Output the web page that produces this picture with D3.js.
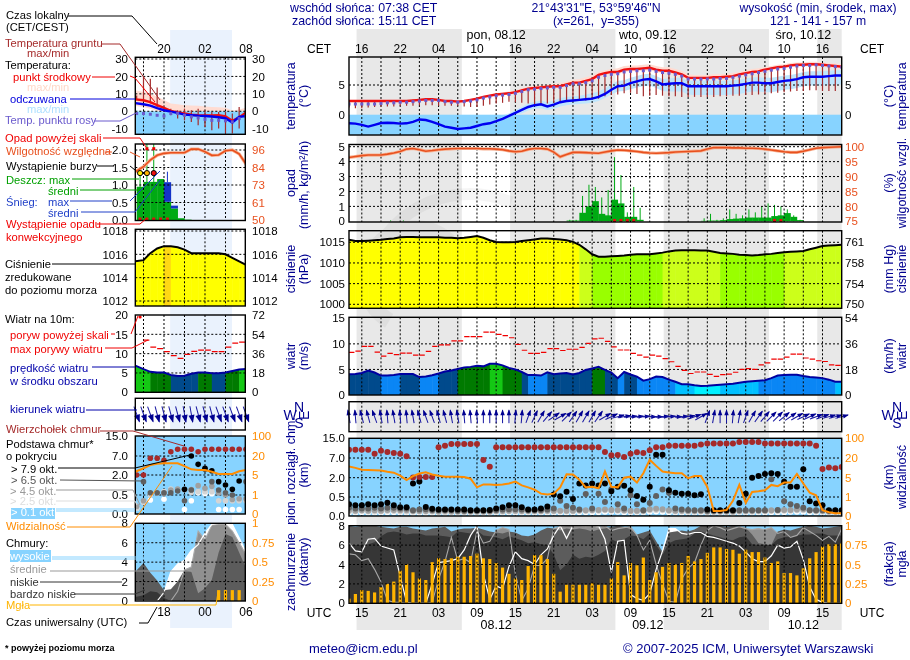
<!DOCTYPE html>
<html>
<head>
<meta charset="utf-8">
<title>Meteogram</title>
<script src="https://cdn.jsdelivr.net/npm/d3@7"></script>
<style>
  html, body { margin: 0; padding: 0; background: #fff; }
  svg { display: block; font-family: "Liberation Sans", Arial, sans-serif; }
  text { font-size: 12.5px; }
  .axis text { font-size: 11.5px; fill: #000; }
  .legend { font-size: 11.2px; }
</style>
</head>
<body>
<div id="chart"></div>
<script>
// ---- main column, one value per UTC hour, 13 (07.12) to 90 (10.12 18h) ----
const hours = d3.range(13, 91);
const tempMid = [2.3,2.3,2.3,2.3,2.3,2.3,2.3,2.3,2.3,2.3,2.4,2.5,2.6,2.6,2.5,2.3,2.3,2.2,2.3,2.5,2.7,3.0,3.2,3.4,3.5,3.6,3.8,4.1,4.4,4.5,4.6,4.7,4.8,4.8,5.1,5.4,5.4,5.7,6.0,6.7,7.0,7.2,7.2,7.6,7.7,7.7,7.8,7.9,7.6,7.4,7.4,7.1,6.8,6.2,6.2,6.2,6.2,6.3,6.3,6.4,6.5,6.8,7.0,7.2,7.3,7.6,7.8,8.0,8.1,8.3,8.4,8.4,8.5,8.5,8.4,8.3,8.2,8.1];
const tempMax = [2.4,2.4,2.4,2.4,2.4,2.4,2.4,2.4,2.4,2.4,2.5,2.6,2.7,2.7,2.6,2.4,2.4,2.3,2.4,2.6,2.9,3.2,3.4,3.6,3.8,3.9,4.1,4.4,4.7,4.9,5.0,5.1,5.2,5.3,5.6,5.9,6.0,6.3,6.6,7.2,7.5,7.7,7.8,8.2,8.3,8.3,8.4,8.5,8.2,8.0,8.0,7.7,7.4,6.8,6.7,6.7,6.7,6.8,6.8,6.9,7.0,7.2,7.5,7.7,7.8,8.0,8.2,8.4,8.5,8.7,8.8,8.8,8.9,8.9,8.8,8.7,8.6,8.5];
const tempMin = [2.2,2.2,2.2,2.2,2.2,2.2,2.2,2.2,2.2,2.2,2.3,2.4,2.5,2.5,2.4,2.2,2.2,2.1,2.2,2.4,2.6,2.8,3.0,3.2,3.3,3.4,3.6,3.8,4.1,4.2,4.3,4.4,4.5,4.5,4.8,5.0,5.0,5.3,5.6,6.3,6.6,6.8,6.8,7.2,7.3,7.3,7.4,7.5,7.2,7.0,7.0,6.7,6.4,5.9,5.9,5.9,5.9,6.0,6.0,6.1,6.2,6.5,6.7,6.9,7.0,7.3,7.5,7.7,7.8,8.0,8.1,8.1,8.2,8.2,8.1,8.0,7.9,7.8];
const feelMid = [-1.45,-1.5,-1.7,-2.0,-1.7,-1.4,-1.35,-1.4,-1.5,-1.45,-1.2,-0.8,-0.9,-1.2,-1.6,-2.0,-2.2,-2.4,-2.3,-2.2,-1.9,-1.6,-1.45,-1.1,-0.7,-0.2,0.3,0.8,1.3,1.6,1.75,1.4,1.7,2.1,2.3,2.4,2.5,2.6,2.7,3.0,3.5,4.2,4.8,4.9,5.3,5.6,5.9,6.0,5.6,5.1,5.2,5.3,5.3,4.8,4.8,4.8,4.8,4.8,4.8,4.8,4.9,5.0,5.2,5.4,5.4,5.3,5.3,5.5,5.7,5.8,6.0,6.3,6.4,6.4,6.4,6.5,6.6,6.6];
const feelMax = [-1.3,-1.35,-1.55,-1.85,-1.55,-1.2,-1.15,-1.2,-1.3,-1.25,-1.0,-0.6,-0.7,-1.0,-1.4,-1.8,-2.0,-2.2,-2.1,-2.0,-1.7,-1.4,-1.2,-0.8,-0.3,0.2,0.8,1.3,1.9,2.2,2.4,2.1,2.4,2.8,3.0,3.1,3.2,3.4,3.6,3.9,4.4,5.1,5.7,5.8,6.2,6.5,6.8,6.9,6.5,6.0,6.1,6.2,6.2,5.7,5.7,5.7,5.7,5.7,5.7,5.7,5.8,5.9,6.1,6.3,6.3,6.2,6.2,6.4,6.6,6.7,6.9,7.2,7.3,7.3,7.3,7.4,7.5,7.5];
const feelMin = [-1.6,-1.65,-1.85,-2.15,-1.85,-1.6,-1.55,-1.6,-1.7,-1.65,-1.4,-1.0,-1.1,-1.4,-1.8,-2.2,-2.4,-2.6,-2.5,-2.4,-2.1,-1.8,-1.7,-1.5,-1.2,-0.8,-0.3,0.2,0.7,1.0,1.1,0.8,1.0,1.4,1.6,1.7,1.8,1.9,2.0,2.3,2.8,3.4,3.9,4.0,4.3,4.6,4.8,4.9,4.5,4.0,3.9,3.9,3.9,3.4,3.3,3.3,3.3,3.3,3.3,3.3,3.4,3.5,3.7,3.9,3.9,3.8,3.8,4.0,4.2,4.3,4.5,4.8,4.9,4.9,4.9,5.0,5.1,5.1];
const dewPoint = [1.8,1.8,1.8,1.8,1.8,1.9,2.0,2.0,2.1,2.1,2.2,2.3,2.4,2.4,2.4,2.2,2.1,2.1,2.2,2.3,2.5,2.8,3.0,3.2,3.3,3.4,3.6,3.9,4.2,4.3,4.4,4.5,4.6,4.6,4.9,5.2,5.2,5.4,5.7,6.3,6.6,6.8,6.9,7.2,7.3,7.4,7.4,7.5,7.3,7.1,7.0,6.8,6.5,6.0,6.0,6.0,6.0,6.0,6.1,6.1,6.3,6.5,6.7,6.9,7.1,7.3,7.5,7.7,7.8,8.0,8.2,8.3,8.3,8.4,8.3,8.2,8.1,8.0];
const soilMin = [1.2,1.1,1.1,1.2,1.3,1.4,1.4,1.4,1.5,1.5,1.5,1.6,1.6,1.6,1.5,1.5,1.5,1.5,1.4,1.3,1.3,1.5,1.7,1.9,2.0,2.2,2.1,2.0,1.9,1.8,1.8,1.9,2.0,2.1,2.2,2.3,2.4,2.4,2.5,2.7,3.1,3.3,3.4,3.6,3.7,3.5,3.1,3.2,3.3,3.2,3.1,3.1,3.0,3.0,3.0,3.0,3.0,3.0,3.1,3.1,3.2,3.2,3.3,3.3,3.4,3.5,3.6,3.7,3.8,3.9,4.0,4.0,4.1,4.1,4.0,4.0,4.0,4.0];
const soilMax = [2.3,2.3,2.4,2.4,2.3,2.4,2.4,2.4,2.4,2.4,2.5,2.6,2.7,2.7,2.6,2.4,2.4,2.3,2.4,2.6,2.8,3.1,3.3,3.5,3.6,3.7,3.9,4.2,4.5,4.6,4.7,4.8,4.9,4.9,5.2,5.5,5.5,5.8,6.1,6.8,7.1,7.3,7.3,7.7,7.8,7.8,7.9,8.0,7.7,7.5,7.5,7.2,6.9,6.3,6.3,6.3,6.3,6.4,6.4,6.5,6.6,6.9,7.1,7.3,7.4,7.7,7.9,8.1,8.2,8.4,8.5,8.5,8.6,8.6,8.5,8.4,8.3,8.2];
const humidity = [96.4,96.7,97.0,97.2,97.2,97.2,97.5,97.9,98.4,99.2,99.4,99.0,98.5,98.7,99.0,99.2,99.3,99.4,99.4,99.4,99.4,99.3,99.3,99.2,99.0,98.6,98.3,98.5,99.1,99.4,99.4,99.2,98.2,96.6,97.4,98.1,98.1,98.0,97.9,97.8,98.2,98.6,98.9,98.8,98.6,98.4,98.1,97.9,97.8,97.9,98.0,98.2,98.3,98.4,98.5,98.6,99.2,99.7,99.7,99.7,99.6,99.6,99.5,99.5,99.4,99.2,98.9,98.6,98.3,98.1,98.1,98.5,99.0,99.5,99.7,99.8,99.9,100];
const rainMean = [0,0,0,0,0,0,0,0,0,0,0,0,0,0,0,0,0,0,0,0,0,0,0,0,0,0,0,0,0,0,0,0,0,0,0.05,0.05,0.57,1.0,1.35,0.5,0.4,1.45,1.2,0.3,0.3,0.1,0,0,0,0,0,0,0,0,0,0.03,0.05,0.05,0.08,0.15,0.18,0.2,0.25,0.25,0.25,0.25,0.35,0.4,0.55,0.3,0.08,0,0,0,0,0,0,0];
const rainMax = [0,0,0,0,0,0,0.06,0,0.06,0,0,0,0,0,0,0,0,0,0,0,0,0,0,0,0,0,0,0,0,0,0,0,0,0,0.1,0.1,1.7,2.45,2.3,1.6,2.1,4.3,3.1,0.6,2.3,0.9,0,0,0,0,0,0,0,0,0,0.2,0.5,0.1,0.2,0.8,0.5,0.4,0.8,0.6,1.0,1.2,1.1,1.0,0.8,0.4,0.1,0,0,0,0,0,0,0];
const convective = [54,55,56,57,79,80];
const pressure = [1015.6,1015.3,1015.3,1015.4,1015.5,1015.6,1015.8,1015.9,1016.2,1016.3,1016.3,1016.2,1016.2,1016.2,1016.2,1016.1,1016.1,1016.0,1016.1,1016.3,1016.5,1016.1,1015.5,1015.1,1015.0,1015.0,1015.1,1015.3,1015.5,1015.7,1015.9,1015.9,1015.8,1015.7,1015.5,1015.1,1014.4,1013.3,1012.1,1011.5,1011.5,1011.6,1011.7,1011.8,1012.0,1012.1,1012.1,1012.1,1012.3,1012.5,1012.8,1013.0,1013.1,1013.1,1013.1,1013.0,1013.0,1012.7,1012.4,1012.3,1012.2,1012.0,1011.9,1011.8,1011.9,1012.1,1012.2,1012.4,1012.6,1012.7,1012.8,1012.9,1013.3,1013.7,1014.1,1014.2,1014.3,1014.4];
const wind = [4.05,4.1,4.3,4.8,4.4,3.8,3.8,3.9,4.1,4.1,4.1,3.5,3.6,3.85,4.2,4.6,4.8,5.1,5.4,5.5,5.7,5.6,6.1,6.1,5.8,5.3,5.0,4.5,3.9,3.9,3.8,4.45,4.05,4.2,4.3,4.0,4.3,4.9,5.2,5.5,4.9,4.4,3.3,4.5,4.0,3.6,2.8,3.1,3.6,3.5,3.0,2.6,2.1,2.1,1.9,1.76,1.8,1.9,2.0,2.1,2.2,2.4,2.6,2.7,2.8,2.9,3.3,3.8,3.9,3.95,3.95,3.7,3.5,3.4,3.3,3.0,2.6,2.6];
const gust = [8.35,8.6,9.5,9.5,8.4,7.6,8.15,7.9,8.2,8.2,7.8,7.8,8.55,9.5,9.8,9.8,10.6,10.6,11.4,11.4,11.4,12.3,12.3,11.85,11.6,11.2,9.9,8.75,8.15,8.15,8.35,9.06,9.06,8.7,8.95,8.95,9.3,10.1,10.96,11.1,10.5,9.4,8.8,8.8,8.15,7.8,7.4,7.8,7.6,7.1,6.5,5.6,4.8,4.2,4.5,4.5,4.05,3.65,4.0,4.1,4.45,5.0,5.15,5.0,5.9,6.3,7.0,7.0,7.4,8.0,8.0,7.24,7.0,6.7,6.55,5.9,5.8,5.8];
const windFrom = [170,175,165,165,160,170,175,170,175,175,170,165,160,160,165,165,170,170,175,175,175,180,180,180,180,180,185,185,200,205,210,220,235,240,225,215,210,210,210,215,240,245,255,260,265,265,265,270,270,265,265,270,265,260,250,240,200,190,180,180,185,190,200,210,215,220,225,225,230,235,240,245,245,250,250,255,255,255];
const cloudTop = [10.3,10.3,10.3,10.3,8.7,9.9,9.4,9,8.7,7.7,2.05,2.2,2.2,2.2,11.4,12,12.7,12.7,12.7,12.7,12.7,6.5,4.8,11.4,11.4,11.4,11.4,11.4,11.4,11.4,11.4,11.4,11.4,11.4,11.4,11.4,11.4,11.4,11.4,11.4,9.4,8.1,8.2,7.4,8.7,9.3,9,10.1,11.4,11.4,12,12,12,12,12,12.5,12.9,12.9,12.9,12.9,12.9,13.5,13.5,13.5,13.5,12.9,12.9,12.9,12.9,12.9,12.9,12.9,12.9,12,4.2,4.6,4.4,4.7];
const base79 = [.31,.28,.28,.31,.28,.31,.35,.28,.23,.23,1.55,1.7,.24,.19,.17,.17,.17,.17,.17,.15,.15,.15,.16,.2,.23,.28,.28,.23,.17,.17,.2,.25,.7,.55,.9,.45,1.55,1.4,1.55,1.4,1.55,.95,1.3,1.37,1.03,.58,.43,1.3,8.3,8.3,1.03,.84,.76,.76,.63,.71,.17,.15,.15,.15,.15,.34,.76,2,2.43,2.95,3.1,2.95,1.68,1.3,1.3,4.15,.39,.33,.28,.15,.15,.15];
const base65 = [.22,.2,.2,.2,.22,.2,.22,.22,.2,.2,.15,.17,.18,.16,.15,.15,.15,.14,.14,.14,.14,.14,.14,.16,.17,.18,.18,.17,.15,.15,.16,.17,.2,.4,.26,.22,.17,.73,.2,.76,.37,1.1,.31,.2,.63,.31,.15,.34,.58,1.08,.84,.2,.17,.16,.15,.15,.14,.14,.14,.14,.14,.15,.15,.15,.15,.15,1.87,.16,.39,.31,.26,.22,.15,.15,.15,.14,.14,.14];
const base45 = [.15,.14,.15,.14,.15,.14,.16,.16,.15,.15,.13,.13,.13,.13,.12,.13,.12,.12,.12,.12,.12,.12,.12,.13,.13,.14,.14,.13,.13,.13,.13,.14,.14,.14,.14,.14,.15,.15,.16,.16,.17,.16,.16,.15,.14,.14,.14,.18,.19,.18,.15,.14,.14,.13,.13,.13,.12,.12,.12,.12,.12,.13,.13,.13,.14,.14,.15,.15,.16,.16,.17,.18,.15,.14,.13,.12,.12,.12];
const base25 = [.12,.12,.13,.12,.12,.12,.13,.13,.12,.12,.11,.11,.11,.11,.1,.1,.1,.1,.1,.1,.1,.1,.1,.11,.11,.12,.12,.11,.11,.11,.11,.12,.12,.12,.12,.12,.13,.13,.14,.14,.15,.14,.14,.13,.12,.12,.12,.15,.16,.15,.13,.12,.12,.11,.11,.11,.1,.1,.1,.1,.1,.11,.11,.11,.12,.12,.13,.13,.14,.14,.15,.15,.13,.12,.11,.1,.1,.1];
const base01 = [.09,.09,.1,.09,.09,.09,.1,.1,.09,.09,.08,.08,.08,.08,.08,.08,.08,.08,.08,.08,.08,.08,.08,.09,.09,.09,.09,.09,.09,.09,.09,.09,.09,.09,.09,.09,.1,.1,.1,.1,.11,.11,.11,.1,.1,.1,.1,.11,.12,.11,.1,.1,.09,.09,.09,.09,.08,.08,.08,.08,.08,.09,.09,.09,.09,.09,.1,.1,.1,.11,.11,.11,.1,.09,.09,.08,.08,.08];
const visibility = [13.5,12.5,11,10.9,10.7,10.4,9.5,8.8,6.6,4.5,6.2,8.2,9.1,7.5,6.5,5.8,5.8,5.8,5.6,4.8,3.0,3.6,3.6,3.5,3.6,3.8,4.2,3.4,3.0,2.5,1.7,1.5,1.7,3.0,7.6,7.4,4.6,3.0,3.1,2.8,9.7,3.1,3.0,5,5.8,4,8.4,18.7,14,9.7,9,8.4,8.4,4.9,6.3,6.3,3.1,.26,.26,.31,.8,3.5,.69,2.05,2.2,2.4,3.5,3.25,4.0,4.0,7.8,3.8,1.9,1.35,.3,.2,.14,.14];
const coverHigh = [6.2,5.4,5.3,6.6,6.7,5.9,5.7,5.5,2.8,0.1,0,0,0,2,4.2,4.3,4.4,4.6,5.5,7,8,3,.4,1.8,1.5,3.8,5.3,4.6,4.4,4.0,5,5.6,7,8,6.7,8,8,8,8,8,6.6,3.2,6.4,6.5,.9,.5,.3,1,3.5,5.4,7.7,7.7,7.2,7.1,7.3,7.3,6.9,6.8,6.6,6.4,6.2,5.9,5.3,4.6,4.3,4.3,4.9,6,5.7,5.8,6.4,4.5,1.7,.4,.1,0,0,0];
const coverMid = [5.1,5.0,4.4,4.6,3.5,2.2,.3,.1,.1,0,0,0,0,.1,2.5,4.3,6.8,4.4,4.6,4.2,7.5,6.2,6.4,7.5,7.8,7.6,3,.3,1.5,3.9,3.9,4.6,7.7,7.9,8,8,8,7.9,8,7.8,8,7.5,7.7,7.8,7.9,7,5.5,6.5,4,2,.2,.1,2.5,3.6,4.2,6,7.5,8,7.8,7.5,7.7,7.9,7.7,7.6,7.7,7.6,7.8,7.2,7.4,6.8,7,7.8,7.4,7,6.5,6.9,6.3,7.7];
const coverLow = [8,7.9,8,8,8,7.9,7.8,7.7,7.9,7.9,7.7,7.6,7.5,7.7,7.8,7.9,7.4,7.6,7.7,7.7,7.8,7.6,7.4,7.3,7.2,7.4,7.3,7,6.9,7.1,7.5,7.8,7.7,7.5,7.7,7.6,7.7,7.6,7.4,7.6,7.7,7.9,8,7.9,7.6,7.1,7.3,7.5,6.4,5.3,7.3,7.4,7.5,7.4,7.6,8,8,8,8,7.9,8,7.9,7.8,7.1,6.2,6.1,6,7.4,7.6,7.5,7.7,7.9,8,7.9,7.7,7.8,7.9,8];
const coverVeryLow = [6,6,6,6.1,6.3,6.9,7.3,7.4,7.3,7.1,7.2,7.2,7,7,7,6.9,6.8,7.4,7.3,7.2,7.5,7,6.9,6.8,6.6,6.9,6.7,6.5,6.2,6.3,6.1,6,5,3.4,4,5,4.6,4.8,4.7,5,5.4,6.6,6.3,6.6,7,6.9,6.6,7.2,6,5,6.2,6.5,6.6,6.7,7.2,7.4,7.2,7,6.8,6.6,6.5,6.8,6.9,6.1,6,6,6,6.6,6.8,6.9,7,7.1,7.1,7.2,7.2,7,7,7];
const fog = [.06,.12,.17,.16,.14,.21,.25,.28,.42,.5,.4,.32,.3,.53,.58,.57,.58,.6,.6,.61,.64,.58,.57,.52,.46,.38,.32,.3,.48,.62,.62,.57,.38,.15,.24,.24,.24,.24,.26,.24,.24,.32,.53,.36,.52,.49,.59,.3,.4,.47,.52,.5,.52,.61,.54,.57,.65,.72,.72,.7,.69,.64,.69,.66,.66,.59,.52,.54,.39,.39,.36,.45,.58,.66,.73,.76,.76,.77];
const nightBands = [[14.18, 30.63], [38.18, 54.63], [62.18, 78.63], [86.18, 90]];

// ---- left column, first hours of the forecast, UTC hour 14 to 30 ----
const leftHours = d3.range(14, 31);
const leftTempMid = [6.8,6.3,5.2,3.5,2,0.2,-.7,-1.3,-2,-2.3,-2.4,-2.4,-2.3,-3.0,-5.5,-3.5,-.7];
const leftTempMax = [12,11,10,8.5,6.5,4.5,4,3.5,3.3,3.1,2.8,2.5,2.3,2,.5,1,2];
const leftTempMin = [3,2.5,1.5,-.5,-1,-3,-4,-5,-5.5,-6,-6.5,-7,-7,-8,-9,-8,-6];
const leftFeelMid = [4.7,4,3.2,1.8,.6,-.2,-.9,-1.9,-2.2,-2.5,-2.7,-3,-3.4,-4,-6.4,-3.2,-2.7];
const leftFeelMax = [0.5,0.3,0,-.3,-.8,-1.2,-1.6,-2,-2.4,-2.8,-3,-3.3,-3.6,-4.2,-6,-4,-3];
const leftFeelMin = [-11,-11,-11,-11,-11,-11.5,-12,-12,-12,-12,-12,-12.5,-12.5,-13,-14,-13,-12];
const leftDew = [-1.3,-1.3,-1.7,-2.3,-2.7,-1.3,-1.3,-2.3,-3.2,-3.8,-4.6,-5.2,-5.2,-5.5,-6.1,-4.2,-2.5];
const leftSoilMax = [9,20,18.7,13.6,1.5,1.5,.6,1.5,.6,1.5,.6,-.4,-.4,-.4,-1.3,2.5,0];
const leftSoilMin = [6.5,6.3,4.4,2.5,-.4,-2.3,-4.2,-5.2,-6.1,-8,-9,-10.9,-9.9,-12.8,-12.8,-9.9,-6];
const leftHumidity = [81.7,85,89.4,92.5,93.8,94.2,94.2,94.2,96.6,96.6,94.9,92.5,92.7,95.5,96,93.4,86.8];
const leftRainMean = [.95,1.09,1.09,1.17,.52,.33,.05,.01,0,0,0,0,0,0,0,0,0];
const leftRainMax = [1.3,2.3,2.3,0,0,0,0,0,0,0,0,0,0,0,0,0,0];
const leftSnowMean = [0,0,0,0,.56,.08,0,0,0,0,0,0,0,0,0,0,0];
const leftSnowMax = [0,0,0,0,1.38,0,0,0,0,0,0,0,0,0,0,0,0];
const leftStorm = ['#ffee00', '#ffb400', '#ee1111'];
const leftConvective = [14,15,16,17,18];
const leftPressure = [1015.4,1015.5,1016.1,1016.5,1016.7,1016.69,1016.6,1016.4,1016.1,1016.1,1016.1,1016.1,1016.1,1016,1015.7,1015.4,1015.1];
const leftWind = [6.9,6.0,5.3,5.1,5.1,4.5,4.2,4.3,4.8,5.1,5.1,4.9,4.9,5.1,5.5,5.9,6];
const leftGust = [21,13.5,11.7,11.3,10.5,9.5,8.8,9.8,10.6,10.9,10.9,10.5,10.5,11.7,12.7,13,13];
const leftWindFrom = [340,340,340,345,345,345,345,350,350,345,345,345,340,340,340,340,340];
const leftCloudTop = [2,2,6.4,6.4,5.9,8.7,9.7,9.7,9.7,8.7,9.7,9.7,9.7,9.7,9.7,9.7,9.7];
const leftBase79 = [null,null,null,null,null,null,null,.93,7,4.8,3.75,3.1,1.5,1.25,.93,1.55,null];
const leftBase65 = [null,1.5,.67,.67,.67,.67,.8,.35,.88,null,3.5,1.5,.88,.67,.5,null,1.5];
const leftBase45 = [.2,.35,null,null,.62,.88,.95,.9,.9,1.2,1,1.15,.65,.5,.38,.4,.4];
const leftBase25 = [.15,.3,.5,.65,.75,.95,.9,null,.7,.75,.75,.75,.35,.35,.35,.35,.35];
const leftBase01 = [.15,.33,.37,null,.39,null,null,.12,.35,.67,.62,.6,.12,.12,.12,.12,null];
const leftVisibility = [7.6,10.3,12.9,13.8,14.2,14.2,14.2,12,9.5,9,8.9,7.6,5.8,5.8,5.8,8,8.9];
const leftCoverHigh = [0,0,0,0,.9,3,3.8,4.2,5.2,5.8,7,7.9,8,8,7.9,6.5,5];
const leftCoverMid = [0,0,0,0,0,0,1,3.2,3.5,7.2,6.3,7.8,7.9,7.9,7.2,6,4.8];
const leftCoverLow = [3,3.9,2.9,2.1,1.1,1.2,2,3.2,3,.8,1.3,2.2,5,6.9,6.6,5,3.4];
const leftCoverVeryLow = [.4,.6,1,.9,.3,0,0,0,0,0,0,0,0,0,0,0,0];
const leftFog = [0,0,0,0,0,0,0,0,0,0,0,0,.14,.14,.14,.14,0];
const leftDayBand = [18.9, 27.95];

// ---- texts ----
const localLabels = ['16','22','04','10','16','22','04','10','16','22','04','10','16'];
const utcLabels = ['15','21','03','09','15','21','03','09','15','21','03','09','15'];
const dayTitles = ['pon, 08.12', 'wto, 09.12', 'śro, 10.12'];
const dayDates = ['08.12', '09.12', '10.12'];
const dayCentres = [36, 59.7, 84];
const leftLocalLabels = ['20', '02', '08'];
const leftUtcLabels = ['18', '00', '06'];

const width = 910;
const height = 660;
const navy = '#000090';
const orange = '#ff8c00';
const rhColor = '#e8501e';
const sky = '#87d3ff';
const brown = '#a52a2a';

const svg = d3.select('#chart').append('svg').attr('width', width).attr('height', height);

const label = (x, y, text, fill = '#000', anchor = 'start', size = null) => {
  const t = svg.append('text')
    .attr('x', x).attr('y', y)
    .attr('fill', fill)
    .attr('text-anchor', anchor)
    .text(text);
  if (size) t.style('font-size', `${size}px`);
  return t;
};

const vertical = (x, y, text, fill = navy) => svg.append('text')
  .attr('transform', `translate(${x},${y}) rotate(-90)`)
  .attr('text-anchor', 'middle')
  .attr('fill', fill)
  .text(text);

const pressureColor = (v) => {
  if (v >= 1016.7) return '#ffd814';
  if (v >= 1014.5) return '#ffff00';
  if (v >= 1012.5) return '#ccff1a';
  return '#99ff00';
};

const windColor = (v) => {
  if (v >= 5.9) return '#14c814';
  if (v >= 5) return '#007a00';
  if (v >= 4) return '#004a8c';
  if (v >= 2.8) return '#0a86f5';
  if (v >= 2) return '#00c0ff';
  return '#00f0ff';
};

const drawColumn = (c) => {
  const { x, hours: hh, id, d, p, y } = c;
  const xAt = (h) => (h === hh[0] ? x.range()[0] : x(h));
  const x0 = x.range()[0];
  const x1 = x.range()[1];
  const w = x1 - x0;
  const frames = [];

  const panel = (name, yr) => {
    svg.append('defs').append('clipPath').attr('id', `${id}-${name}`)
      .append('rect')
      .attr('x', x0).attr('y', yr[0])
      .attr('width', w).attr('height', yr[1] - yr[0]);
    frames.push(yr);
    return svg.append('g').attr('clip-path', `url(#${id}-${name})`);
  };

  const grid = (g, yr, scale, ticks) => {
    g.selectAll('.vgrid').data(c.gridHours).join('line')
      .attr('x1', (h) => x(h)).attr('x2', (h) => x(h))
      .attr('y1', yr[0]).attr('y2', yr[1])
      .attr('stroke', '#000').attr('stroke-dasharray', '2,2');
    if (!scale) return;
    g.selectAll('.hgrid').data(ticks).join('line')
      .attr('x1', x0).attr('x2', x1)
      .attr('y1', (v) => scale(v)).attr('y2', (v) => scale(v))
      .attr('stroke', '#000').attr('stroke-dasharray', '2,2');
  };

  const skyFill = (g, yr) => g.append('rect')
    .attr('x', x0).attr('y', yr[0])
    .attr('width', w).attr('height', yr[1] - yr[0])
    .attr('fill', sky)
    .style('mix-blend-mode', 'multiply');

  const areaPath = (g, values, scale, fill) => g.append('path')
    .attr('d', d3.area().x((e, i) => xAt(hh[i])).y0(scale.range()[0]).y1((v) => scale(v))(values))
    .attr('fill', fill);

  // max/min bands only show above zero, below it the panel stays plain blue
  const bandArea = (g, lo, hi, scale, fill) => g.append('path')
    .attr('d', d3.area().x((e, i) => xAt(hh[i]))
      .y0((e, i) => scale(Math.max(lo[i], 0)))
      .y1((e, i) => scale(Math.max(hi[i], 0)))(hi))
    .attr('fill', fill);

  const linePath = (g, values, scale, stroke, sw) => g.append('path')
    .attr('d', d3.line().x((e, i) => xAt(hh[i])).y((v) => scale(v))(values))
    .attr('fill', 'none')
    .attr('stroke', stroke)
    .attr('stroke-width', sw);

  const axes = (scale, leftTicks, rightScale, rightTicks, leftFmt, rightFmt, rightColor = '#000') => {
    svg.append('g').attr('class', 'axis')
      .attr('transform', `translate(${c.axisLeft},0)`)
      .call(d3.axisLeft(scale).tickValues(leftTicks).tickSize(0).tickPadding(3).tickFormat(leftFmt))
      .call((a) => a.select('.domain').remove());
    const r = svg.append('g').attr('class', 'axis')
      .attr('transform', `translate(${c.axisRight},0)`)
      .call(d3.axisRight(rightScale).tickValues(rightTicks).tickSize(0).tickPadding(3).tickFormat(rightFmt))
      .call((a) => a.select('.domain').remove());
    r.selectAll('text').style('fill', rightColor);
  };

  // temperature
  const tempG = panel('temp', p.temp);
  tempG.append('rect')
    .attr('x', x0).attr('y', y.temp(0))
    .attr('width', w).attr('height', p.temp[1] - y.temp(0))
    .attr('fill', sky)
    .style('mix-blend-mode', 'multiply');
  bandArea(tempG, d.feelMin, d.feelMax, y.temp, '#bfe6fd');
  bandArea(tempG, d.tempMin, d.tempMax, y.temp, '#ffdcd2');
  grid(tempG, p.temp, y.temp, c.tempTicks);
  tempG.selectAll('.soil').data(hh).join('line')
    .attr('x1', (h) => x(h)).attr('x2', (h) => x(h))
    .attr('y1', (h, i) => y.temp(d.soilMax[i])).attr('y2', (h, i) => y.temp(d.soilMin[i]))
    .attr('stroke', brown).attr('stroke-width', 1.2);
  linePath(tempG, d.tempMid, y.temp, '#f01010', 2.4);
  linePath(tempG, d.feelMid, y.temp, '#0000f0', 2.4);
  tempG.selectAll('.dew').data(hh).join('rect')
    .attr('x', (h) => x(h) - 1.5)
    .attr('y', (h, i) => y.temp(d.dew[i]) - 1.5)
    .attr('width', 3).attr('height', 3)
    .attr('fill', '#6a5acd');
  axes(y.temp, c.tempLabels, y.temp, c.tempLabels, String, String);

  // precipitation and humidity
  const rainG = panel('rain', p.rain);
  rainG.selectAll('.rain').data(hh).join('rect')
    .attr('x', (h) => x(h))
    .attr('width', x(1) - x(0) + 0.3)
    .attr('y', (h, i) => y.rain(d.rainMean[i]))
    .attr('height', (h, i) => y.rain(0) - y.rain(d.rainMean[i]))
    .attr('fill', '#00aa14');
  rainG.selectAll('.rainMax').data(hh).join('line')
    .attr('x1', (h) => x(h + 0.5)).attr('x2', (h) => x(h + 0.5))
    .attr('y1', y.rain(0)).attr('y2', (h, i) => y.rain(d.rainMax[i]))
    .attr('stroke', '#00aa14').attr('stroke-width', 1);
  if (d.snowMean) {
    rainG.selectAll('.snow').data(hh).join('rect')
      .attr('x', (h) => x(h))
      .attr('width', x(1) - x(0) + 0.3)
      .attr('y', (h, i) => y.rain(d.rainMean[i] + d.snowMean[i]))
      .attr('height', (h, i) => y.rain(0) - y.rain(d.snowMean[i]))
      .attr('fill', '#1432c8');
    rainG.selectAll('.snowMax').data(hh).join('line')
      .attr('x1', (h) => x(h + 0.5)).attr('x2', (h) => x(h + 0.5))
      .attr('y1', (h, i) => y.rain(d.rainMean[i] + d.snowMean[i]))
      .attr('y2', (h, i) => y.rain(d.snowMax[i] || d.rainMean[i] + d.snowMean[i]))
      .attr('stroke', '#1432c8');
  }
  grid(rainG, p.rain, y.rain, c.rainTicks);
  linePath(rainG, d.humidity, y.rh, '#f8b090', 3.2);
  linePath(rainG, d.humidity, y.rh, rhColor, 1.6);
  rainG.selectAll('.conv').data(d.convective).join('rect')
    .attr('x', (h) => x(h + 0.5) - 1.5)
    .attr('y', p.rain[1] - 3)
    .attr('width', 3).attr('height', 3)
    .attr('fill', '#e01010');
  if (d.storm) {
    // over-scale rain flags and storm markers sit on fixed rows of the panel
    const overScale = hh.filter((h, i) => d.rainMax[i] > 2);
    svg.selectAll('.over').data(overScale).join('rect')
      .attr('x', (h) => x(h + 0.5) - 1.5)
      .attr('y', y.rain(2.08))
      .attr('width', 3).attr('height', 3)
      .attr('fill', '#f00000');
    svg.selectAll('.storm').data(d.storm).join('circle')
      .attr('cx', (e, i) => x(hh[i] + 0.5))
      .attr('cy', y.rain(1.34))
      .attr('r', 2.6)
      .attr('fill', (e) => e)
      .attr('stroke', '#000');
  }
  axes(y.rain, c.rainLabels, y.rh, c.rhLabels, c.rainFmt, d3.format('d'), rhColor);

  // pressure
  const pressG = panel('press', p.press);
  const pressClip = `${id}-pressArea`;
  svg.append('defs').append('clipPath').attr('id', pressClip)
    .append('path')
    .attr('d', d3.area().x((e, i) => xAt(hh[i])).y0(p.press[1]).y1((v) => y.press(v))(d.pressure));
  pressG.append('g').attr('clip-path', `url(#${pressClip})`)
    .selectAll('rect').data(hh).join('rect')
    .attr('x', (h) => xAt(h))
    .attr('width', (h) => x(h + 1) - xAt(h) + 0.5)
    .attr('y', p.press[0]).attr('height', p.press[1] - p.press[0])
    .attr('fill', (h, i) => pressureColor(d.pressure[i]));
  grid(pressG, p.press, y.press, c.pressTicks);
  linePath(pressG, d.pressure, y.press, '#000', 2);
  axes(y.press, c.pressTicks, y.press, c.pressTicks, d3.format('d'), (v) => c.pressRight(v));

  // wind
  const windG = panel('wind', p.wind);
  const windClip = `${id}-windArea`;
  svg.append('defs').append('clipPath').attr('id', windClip)
    .append('path')
    .attr('d', d3.area().x((e, i) => xAt(hh[i])).y0(p.wind[1]).y1((v) => y.wind(v))(d.wind));
  windG.append('g').attr('clip-path', `url(#${windClip})`)
    .selectAll('rect').data(hh).join('rect')
    .attr('x', (h) => xAt(h))
    .attr('width', (h) => x(h + 1) - xAt(h) + 0.5)
    .attr('y', p.wind[0]).attr('height', p.wind[1] - p.wind[0])
    .attr('fill', (h, i) => windColor(d.wind[i]));
  grid(windG, p.wind, y.wind, c.windTicks);
  linePath(windG, d.wind, y.wind, '#0000a0', 2);
  windG.selectAll('.gust').data(hh).join('line')
    .attr('x1', (h) => x(h)).attr('x2', (h) => x(h + 1) - 1)
    .attr('y1', (h, i) => y.wind(d.gust[i])).attr('y2', (h, i) => y.wind(d.gust[i]))
    .attr('stroke', '#f00000').attr('stroke-width', 1.2);
  svg.selectAll('.gustOver').data(hh.filter((h, i) => d.gust[i] > 20)).join('circle')
    .attr('cx', (h) => x(h + 0.5))
    .attr('cy', p.wind[0] + 2)
    .attr('r', 1.6)
    .attr('fill', '#f00000');
  axes(y.wind, c.windLabels, y.wind, c.windLabels, d3.format('d'), (v) => d3.format('d')(v * 3.6));

  // wind direction, arrow points where the wind blows to
  grid(panel('dir', p.dir), p.dir, null, []);
  const dirG = svg.append('g');
  const cy = (p.dir[0] + p.dir[1]) / 2 + c.arrowShift;
  const tip = -c.arrowLen / 2;
  const arrow = dirG.selectAll('.arrow').data(hh).join('g')
    .attr('transform', (h, i) => `translate(${x(h)},${cy}) rotate(${d.windFrom[i] + 180})`);
  arrow.append('line')
    .attr('y1', -tip).attr('y2', tip)
    .attr('stroke', '#1414a0').attr('stroke-width', 1);
  arrow.append('path')
    .attr('d', d3.line()([[0, tip - 1], [-c.headW, tip + c.headL], [c.headW, tip + c.headL]]))
    .attr('fill', '#000090');

  // cloud base and top, visibility
  const cloudG = panel('cloud', p.cloud);
  skyFill(cloudG, p.cloud);
  grid(cloudG, p.cloud, y.cloud, c.cloudTicks);
  const dots = (values, fill, r) => cloudG.append('g').selectAll('circle')
    .data(hh.map((h, i) => ({ h, v: values[i] })).filter((e) => e.v != null))
    .join('circle')
    .attr('cx', (e) => x(e.h))
    .attr('cy', (e) => y.cloud(e.v))
    .attr('r', r)
    .attr('fill', fill);
  dots(d.base01, '#ffffff', c.dotR);
  dots(d.base25, '#d4d4d4', c.dotR);
  dots(d.base45, '#a0a0a0', c.dotR);
  dots(d.base65, '#606060', c.dotR);
  dots(d.base79, '#000000', c.dotR);
  dots(d.cloudTop, brown, c.dotR);
  linePath(cloudG, d.visibility, y.vis, orange, 2);
  axes(y.cloud, [15, 7, 2, 0.5, 0], y.vis, [100, 20, 5, 1, 0], d3.format('.1f'), d3.format('d'), orange);

  // cloud cover and fog
  const coverG = panel('cover', p.cover);
  skyFill(coverG, p.cover);
  areaPath(coverG, d.coverHigh, y.cover, '#ffffff');
  areaPath(coverG, d.coverMid, y.cover, '#909090');
  areaPath(coverG, d.coverLow, y.cover, '#5c5c5c');
  areaPath(coverG, d.coverVeryLow, y.cover, '#363636');
  linePath(coverG, d.coverMid, y.cover, '#a8a8a8', 1.1);
  linePath(coverG, d.coverHigh, y.cover, '#ffffff', 1.2);
  coverG.selectAll('.fog').data(hh).join('rect')
    .attr('x', (h) => x(h) - 1.6)
    .attr('width', 3.2)
    .attr('y', (h, i) => y.fog(d.fog[i]))
    .attr('height', (h, i) => y.fog(0) - y.fog(d.fog[i]))
    .attr('fill', '#ffb400');
  grid(coverG, p.cover, y.cover, [6, 4, 2]);
  axes(y.cover, [8, 6, 4, 2, 0], y.fog, [1, 0.75, 0.5, 0.25, 0], d3.format('d'), String, orange);

  svg.selectAll(null).data(frames).join('rect')
    .attr('x', x0).attr('y', (f) => f[0])
    .attr('width', w).attr('height', (f) => f[1] - f[0])
    .attr('fill', 'none')
    .attr('stroke', '#000')
    .attr('stroke-width', 1.4);
};

// backgrounds first
const xMain = d3.scaleLinear().domain([13, 90]).range([349, 841.7]);
const xLeft = d3.scaleLinear().domain([13.8, 29.9]).range([135.3, 245.3]);

svg.selectAll('.night').data(nightBands).join('rect')
  .attr('x', (b) => xMain(b[0]))
  .attr('width', (b) => xMain(b[1]) - xMain(b[0]))
  .attr('y', 29).attr('height', 601)
  .attr('fill', '#e8e8e8');
svg.append('rect')
  .attr('x', xLeft(leftDayBand[0]))
  .attr('width', xLeft(leftDayBand[1]) - xLeft(leftDayBand[0]))
  .attr('y', 30).attr('height', 598)
  .attr('fill', '#eaf2fd');

// faint logo watermark behind the main column
const watermark = svg.append('g').attr('fill', '#000').attr('opacity', 0.035);
const ring = d3.arc();
watermark.append('path')
  .attr('transform', 'translate(415,278)')
  .attr('d', ring({ innerRadius: 42, outerRadius: 58, startAngle: -2.6, endAngle: 1.2 }));
watermark.append('path')
  .attr('transform', 'translate(470,300)')
  .attr('d', ring({ innerRadius: 100, outerRadius: 112, startAngle: -1.2, endAngle: 0.4 }));

drawColumn({
  id: 'main',
  x: xMain,
  hours,
  gridHours: d3.range(15, 91, 3),
  axisLeft: 348,
  axisRight: 842,
  arrowShift: 0,
  arrowLen: 13,
  headW: 2.2,
  headL: 5,
  dotR: 3,
  p: {
    temp: [57, 135],
    rain: [144.5, 222],
    press: [230.7, 308.3],
    wind: [317.3, 395],
    dir: [401.7, 431.7],
    cloud: [438.3, 516],
    cover: [525.7, 603.3],
  },
  y: {
    temp: d3.scaleLinear().domain([0, 5]).range([114.7, 85]),
    rain: d3.scaleLinear().domain([0, 5]).range([221.3, 146.7]),
    rh: d3.scaleLinear().domain([75, 100]).range([221.3, 146.7]),
    press: d3.scaleLinear().domain([1000, 1015]).range([304.3, 242.3]),
    wind: d3.scaleLinear().domain([0, 15]).range([395, 318.3]),
    cloud: d3.scaleLinear().domain([0, 0.5, 2, 7, 15]).range([516, 497, 477.7, 458, 438.3]),
    vis: d3.scaleLinear().domain([0, 1, 5, 20, 100]).range([516, 497, 477.7, 458, 438.3]),
    cover: d3.scaleLinear().domain([0, 8]).range([603.3, 525.7]),
    fog: d3.scaleLinear().domain([0, 1]).range([603.3, 525.7]),
  },
  tempTicks: [5],
  tempLabels: [5, 0],
  rainTicks: [1, 2, 3, 4, 5],
  rainLabels: [5, 4, 3, 2, 1, 0],
  rhLabels: [100, 95, 90, 85, 80, 75],
  rainFmt: d3.format('d'),
  pressTicks: [1015, 1010, 1005, 1000],
  pressRight: (v) => d3.format('d')(Math.round(v * 0.75006)),
  windTicks: [5, 10],
  windLabels: [15, 10, 5, 0],
  cloudTicks: [7, 2, 0.5],
  d: {
    tempMid, tempMax, tempMin, feelMid, feelMax, feelMin,
    dew: dewPoint, soilMax, soilMin, humidity, rainMean, rainMax, convective,
    pressure, wind, gust, windFrom, cloudTop, base79, base65, base45, base25, base01,
    visibility, coverHigh, coverMid, coverLow, coverVeryLow, fog,
  },
});

drawColumn({
  id: 'left',
  x: xLeft,
  hours: leftHours,
  gridHours: d3.range(15, 31, 3),
  axisLeft: 131,
  axisRight: 249,
  arrowShift: 0,
  arrowLen: 16,
  headW: 3,
  headL: 7,
  dotR: 2.8,
  p: {
    temp: [57.3, 134.3],
    rain: [144, 220.5],
    press: [229.3, 306],
    wind: [315, 392.3],
    dir: [398.3, 430],
    cloud: [436, 514],
    cover: [523.3, 601],
  },
  y: {
    temp: d3.scaleLinear().domain([-10, 30]).range([128.7, 59]),
    rain: d3.scaleLinear().domain([0, 2]).range([220, 150]),
    rh: d3.scaleLinear().domain([50, 96]).range([220, 150]),
    press: d3.scaleLinear().domain([1012, 1018]).range([301, 231]),
    wind: d3.scaleLinear().domain([0, 20]).range([392.3, 315]),
    cloud: d3.scaleLinear().domain([0, 0.5, 2, 7, 15]).range([514, 495, 475, 456, 436]),
    vis: d3.scaleLinear().domain([0, 1, 5, 20, 100]).range([514, 495, 475, 456, 436]),
    cover: d3.scaleLinear().domain([0, 8]).range([601, 523.3]),
    fog: d3.scaleLinear().domain([0, 1]).range([601, 523.3]),
  },
  tempTicks: [30, 20, 10, 0],
  tempLabels: [30, 20, 10, 0, -10],
  rainTicks: [2, 1.5, 1, 0.5],
  rainLabels: [2, 1.5, 1, 0.5, 0],
  rhLabels: [96, 84, 73, 61, 50],
  rainFmt: d3.format('.1f'),
  pressTicks: [1018, 1016, 1014, 1012],
  pressRight: d3.format('d'),
  windTicks: [15, 10, 5],
  windLabels: [20, 15, 10, 5, 0],
  cloudTicks: [7, 2, 0.5],
  d: {
    tempMid: leftTempMid, tempMax: leftTempMax, tempMin: leftTempMin,
    feelMid: leftFeelMid, feelMax: leftFeelMax, feelMin: leftFeelMin,
    dew: leftDew, soilMax: leftSoilMax, soilMin: leftSoilMin,
    humidity: leftHumidity, rainMean: leftRainMean, rainMax: leftRainMax,
    snowMean: leftSnowMean, snowMax: leftSnowMax, storm: leftStorm, convective: leftConvective,
    pressure: leftPressure, wind: leftWind, gust: leftGust, windFrom: leftWindFrom,
    cloudTop: leftCloudTop, base79: leftBase79, base65: leftBase65, base45: leftBase45,
    base25: leftBase25, base01: leftBase01, visibility: leftVisibility,
    coverHigh: leftCoverHigh, coverMid: leftCoverMid, coverLow: leftCoverLow,
    coverVeryLow: leftCoverVeryLow, fog: leftFog,
  },
});

// header
label(290, 12, 'wschód słońca: 07:38 CET', navy, 'start', 12.4);
label(292, 25, 'zachód słońca: 15:11 CET', navy, 'start', 12.4);
label(596, 12, '21°43\'31"E, 53°59\'46"N', navy, 'middle', 12.3);
label(596, 25, '(x=261,\u00a0 y=355)', navy, 'middle', 12.3);
label(818, 12, 'wysokość (min, środek, max)', navy, 'middle', 12.2);
label(818, 25, '121 - 141 - 157 m', navy, 'middle', 12.2);

// time axes of the main column
const sixHourly = d3.range(15, 91, 6);
sixHourly.forEach((h, i) => {
  label(xMain(h), 53, localLabels[i], '#000', 'middle', 12);
  label(xMain(h), 617, utcLabels[i], '#000', 'middle', 12);
});
dayCentres.forEach((h, i) => {
  label(xMain(h), 39, dayTitles[i], '#000', 'middle', 12.5);
  label(xMain(h), 629, dayDates[i], '#000', 'middle', 12.5);
});
[319, 872].forEach((x) => {
  label(x, 53, 'CET', '#000', 'middle', 12);
  label(x, 617, 'UTC', '#000', 'middle', 12);
});

// time axes of the left column
[18, 24, 30].forEach((h, i) => {
  label(xLeft(h), 53, leftLocalLabels[i], '#000', 'middle', 12);
  label(xLeft(h), 616, leftUtcLabels[i], '#000', 'middle', 12);
});

// panel titles on both sides of the main column
vertical(295, 96, 'temperatura');
vertical(308, 96, '(°C)');
vertical(295, 183, 'opad');
vertical(308, 185, '(mm/h, kg/m²/h)');
vertical(295, 269, 'ciśnienie');
vertical(308, 269, '(hPa)');
vertical(295, 356, 'wiatr');
vertical(308, 356, '(m/s)');
vertical(295, 471, 'pion. rozciągł. chm.');
vertical(308, 475, '(km)');
vertical(295, 572, 'zachmurzenie');
vertical(308, 562, '(oktanty)');
vertical(893, 96, '(°C)');
vertical(906, 96, 'temperatura');
vertical(893, 183, '(%)');
vertical(906, 183, 'wilgotność wzgl.');
vertical(893, 269, '(mm Hg)');
vertical(906, 269, 'ciśnienie');
vertical(893, 356, '(km/h)');
vertical(906, 356, 'wiatr');
vertical(893, 477, '(km)');
vertical(906, 477, 'widzialność');
vertical(893, 564, '(frakcja)');
vertical(906, 564, 'mgła');

// compass on both sides of the wind direction panel
[299, 897].forEach((x) => {
  label(x - 9, 420, 'W', navy, 'middle', 14);
  label(x, 412, 'N', navy, 'middle', 14);
  label(x, 428, 'S', navy, 'middle', 14);
  svg.append('text')
    .attr('transform', `translate(${x + 10},420) rotate(-90)`)
    .attr('fill', navy)
    .style('font-size', '14px')
    .text('E');
});

// footer
label(309, 653, 'meteo@icm.edu.pl', navy, 'start', 13);
label(623, 653, '© 2007-2025 ICM, Uniwersytet Warszawski', navy, 'start', 13);
label(5, 651, '* powyżej poziomu morza', '#000', 'start', 9).style('font-weight', 'bold');

// legend highlights
svg.append('rect').attr('x', 11).attr('y', 508).attr('width', 44).attr('height', 11).attr('fill', sky);
svg.append('rect').attr('x', 10).attr('y', 550).attr('width', 41).attr('height', 12).attr('fill', sky);

// leader lines from the legend to the panels
const leaders = [
  ['#000', [[68, 16], [132, 16], [157, 44]]],
  [brown, [[102, 44], [120, 44], [160, 100]]],
  ['#f00000', [[92, 77], [115, 77]]],
  ['#f00000', [[130, 76], [135, 78], [155, 102]]],
  ['#0000dd', [[70, 99], [135, 99]]],
  ['#6a5acd', [[94, 121], [120, 121], [136, 113]]],
  ['#f00000', [[103, 138], [140, 138], [146, 147]]],
  [rhColor, [[105, 152], [112, 152]]],
  [rhColor, [[130, 152], [140, 157]]],
  ['#000', [[97, 166], [114, 166]]],
  ['#000', [[130, 166], [135, 170]]],
  ['#00a000', [[72, 179], [139, 179]]],
  ['#00a000', [[80, 190], [142, 190]]],
  ['#2040c8', [[70, 201], [112, 201]]],
  ['#2040c8', [[130, 201], [160, 171]]],
  ['#2040c8', [[81, 212], [135, 212], [160, 180]]],
  ['#f00000', [[97, 224], [140, 224], [147, 218]]],
  ['#000', [[52, 264], [135, 264]]],
  ['#f00000', [[111, 334], [115, 334]]],
  ['#f00000', [[131, 334], [138, 316]]],
  ['#f00000', [[105, 348], [132, 348], [148, 340]]],
  ['#0000aa', [[92, 367], [135, 367]]],
  ['#0000aa', [[86, 410], [137, 410]]],
  [brown, [[100, 431], [133, 431], [184, 446]]],
  ['#000', [[58, 468], [135, 468], [190, 455]]],
  ['#555', [[60, 480], [143, 481]]],
  ['#999', [[56, 490], [133, 490], [140, 505]]],
  ['#ddd', [[56, 501], [135, 501], [137, 505]]],
  [sky, [[56, 509], [135, 509]]],
  [sky, [[56, 511], [135, 511]]],
  [orange, [[67, 527], [130, 527], [172, 466]]],
  [sky, [[52, 557], [185, 557]]],
  [sky, [[52, 559], [185, 559]]],
  ['#999', [[50, 571], [192, 571]]],
  ['#333', [[40, 582], [122, 582]]],
  ['#333', [[75, 594], [135, 594], [145, 590]]],
  ['#ffb400', [[30, 605], [216, 605], [218, 592]]],
  ['#000', [[139, 623], [148, 623], [157, 607]]],
];
svg.selectAll('.leader').data(leaders).join('path')
  .attr('d', (l) => d3.line()(l[1]))
  .attr('fill', 'none')
  .attr('stroke', (l) => l[0]);

// legend texts of the left column
const legendTexts = [
  [6, 19, 'Czas lokalny', '#000'],
  [6, 31, '(CET/CEST)', '#000'],
  [5, 47, 'Temperatura gruntu', brown],
  [27, 57, 'max/min', brown],
  [5, 69, 'Temperatura:', '#000'],
  [13, 81, 'punkt środkowy', '#f00000'],
  [27, 91, 'max/min', '#ffd8c8'],
  [10, 103, 'odczuwana', '#0000dd'],
  [27, 113, 'max/min', '#aee0ff'],
  [5, 124, 'Temp. punktu rosy', '#6a5acd'],
  [5, 142, 'Opad powyżej skali', '#f00000'],
  [6, 155, 'Wilgotność względna', rhColor],
  [6, 170, 'Wystąpienie burzy', '#000'],
  [6, 184, 'Deszcz: max', '#00a000'],
  [48, 195, 'średni', '#00a000'],
  [6, 206, 'Śnieg:', '#2040c8'],
  [48, 206, 'max', '#2040c8'],
  [48, 217, 'średni', '#2040c8'],
  [6, 228, 'Wystąpienie opadu', '#f00000'],
  [6, 241, 'konwekcyjnego', '#f00000'],
  [5, 268, 'Ciśnienie', '#000'],
  [5, 281, 'zredukowane', '#000'],
  [5, 294, 'do poziomu morza', '#000'],
  [5, 323, 'Wiatr na 10m:', '#000'],
  [10, 339, 'poryw powyżej skali', '#f00000'],
  [10, 353, 'max porywy wiatru', '#f00000'],
  [10, 372, 'prędkość wiatru', '#0000aa'],
  [10, 385, 'w środku obszaru', '#0000aa'],
  [10, 413, 'kierunek wiatru', '#0000aa'],
  [6, 433, 'Wierzchołek chmur', brown],
  [6, 448, 'Podstawa chmur*', '#000'],
  [6, 460, 'o pokryciu', '#000'],
  [11, 473, '> 7.9 okt.', '#000'],
  [11, 484, '> 6.5 okt.', '#555'],
  [10, 495, '> 4.5 okt.', '#999'],
  [10, 505, '> 2.5 okt.', '#ddd'],
  [11, 516, '> 0.1 okt.', '#fff'],
  [6, 530, 'Widzialność', orange],
  [6, 547, 'Chmury:', '#000'],
  [10, 560, 'wysokie', '#fff'],
  [10, 573, 'średnie', '#999'],
  [10, 586, 'niskie', '#333'],
  [10, 598, 'bardzo niskie', '#333'],
  [6, 609, 'Mgła', '#ffb400'],
  [6, 626, 'Czas uniwersalny (UTC)', '#000'],
];
legendTexts.forEach(([x, y, t, f]) => label(x, y, t, f).attr('class', 'legend'));
</script>
</body>
</html>
